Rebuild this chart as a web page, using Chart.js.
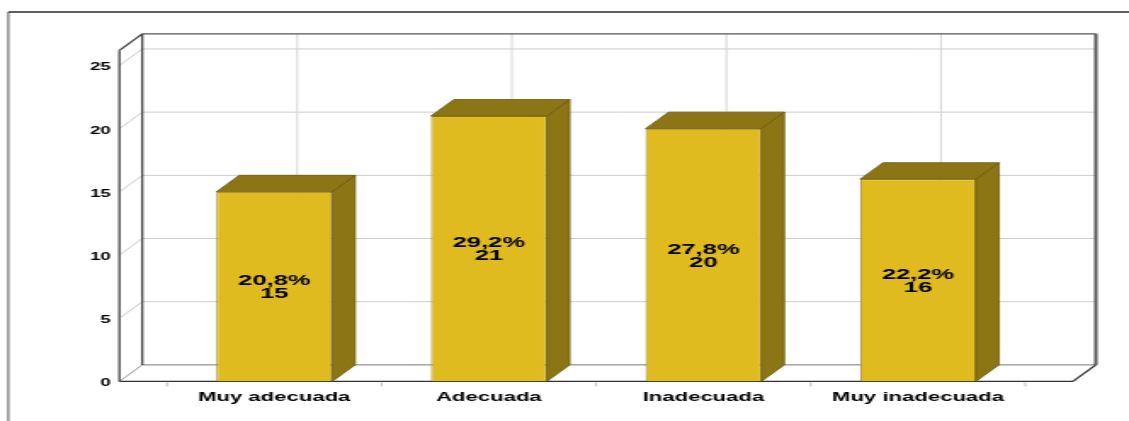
<!DOCTYPE html>
<html>
<head>
<meta charset="utf-8">
<script src="https://cdn.jsdelivr.net/npm/chart.js@4/dist/chart.umd.min.js"></script>
<style>
  html, body { margin: 0; padding: 0; background: #fff; }
  #grafico { display: block; }
</style>
</head>
<body>
<!-- canvas drawn narrow, then widened by css -->
<canvas id="grafico" width="664" height="421" style="width:1129px;height:421px"></canvas>
<script>
const categories = ['Muy adecuada', 'Adecuada', 'Inadecuada', 'Muy inadecuada'];
const counts = [15, 21, 20, 16];
const percents = ['20,8%', '29,2%', '27,8%', '22,2%'];
const yTicks = [0, 5, 10, 15, 20, 25];
const yMax = 26.2;

// profundidad de la caja 3D
const DX = 13.5, DY = -16.5, SIDE = 28;
const FONT = '"Liberation Sans", Arial, sans-serif';

function line(ctx, x1, y1, x2, y2) {
    ctx.beginPath();
    ctx.moveTo(x1, y1);
    ctx.lineTo(x2, y2);
    ctx.stroke();
}

function poly(ctx, pts) {
    ctx.beginPath();
    ctx.moveTo(pts[0][0], pts[0][1]);
    for (let i = 1; i < pts.length; i++) ctx.lineTo(pts[i][0], pts[i][1]);
    ctx.closePath();
    ctx.fill();
    ctx.stroke();
}

// paredes, piso y rejilla
const caja3d = {
    id: 'caja3d',
    beforeDatasetsDraw(chart) {
        const { ctx, chartArea: a, scales: { x, y } } = chart;
        const fl = a.left - SIDE, fr = a.right + SIDE;
        const y0 = y.getPixelForValue(0), yt = y.getPixelForValue(yMax);
        ctx.save();

        // marco exterior
        ctx.strokeStyle = '#2b2b2b';
        ctx.lineWidth = 1.5;
        line(ctx, 4.9, 12, chart.width, 12);
        ctx.lineWidth = 0.8;
        line(ctx, 4.9, 12, 4.9, chart.height);

        // lineas horizontales (pared izquierda + fondo)
        ctx.strokeStyle = '#cccccc';
        ctx.lineWidth = 1;
        yTicks.forEach(v => {
            if (v === 0) return;
            const py = y.getPixelForValue(v);
            line(ctx, fl, py, fl + DX, py + DY);
            line(ctx, fl + DX, py + DY, fr + DX, py + DY);
        });

        // lineas verticales en el fondo
        ctx.strokeStyle = '#d6d6d6';
        categories.forEach((c, i) => {
            const px = x.getPixelForValue(i) + DX;
            line(ctx, px, yt + DY, px, y0 + DY);
        });

        // marcas bajo el piso
        const w = x.getPixelForValue(1) - x.getPixelForValue(0);
        ctx.strokeStyle = '#bdbdbd';
        for (let i = 0; i <= categories.length; i++) {
            const px = x.getPixelForValue(i) - w / 2;
            line(ctx, px, y0 + 1, px, y0 + 5);
        }

        // piso
        ctx.strokeStyle = '#777';
        ctx.lineWidth = 1;
        line(ctx, fl + DX, y0 + DY, fr + DX, y0 + DY);
        ctx.strokeStyle = '#999';
        line(ctx, fl, y0, fl + DX, y0 + DY);
        ctx.strokeStyle = '#333';
        ctx.lineWidth = 1.3;
        line(ctx, fl, y0, fr, y0);
        line(ctx, fr, y0, fr + DX, y0 + DY);

        // pared izquierda y fondo
        ctx.strokeStyle = '#3a3a3a';
        ctx.lineWidth = 1.2;
        line(ctx, fl, yt, fl, y0);
        line(ctx, fl + DX, yt + DY, fl + DX, y0 + DY);
        line(ctx, fl, yt, fl + DX, yt + DY);
        ctx.strokeStyle = '#555';
        line(ctx, fl + DX, yt + DY, fr + DX, yt + DY);
        ctx.lineWidth = 2;
        line(ctx, fr + DX, yt + DY, fr + DX, y0 + DY);

        ctx.restore();
    },
    afterDatasetsDraw(chart) {
        const { ctx } = chart;
        const meta = chart.getDatasetMeta(0);
        ctx.save();
        ctx.fillStyle = '#8b7515';
        ctx.strokeStyle = '#6b5a0f';
        ctx.lineWidth = 0.8;
        meta.data.forEach((bar, i) => {
            const { x: cx, y: top, base, width } = bar.getProps(['x', 'y', 'base', 'width'], true);
            const l = cx - width / 2, r = cx + width / 2;
            // cara lateral y superior
            poly(ctx, [[r, top], [r + DX, top + DY], [r + DX, base + DY], [r, base]]);
            poly(ctx, [[l, top], [l + DX, top + DY], [r + DX, top + DY], [r, top]]);

            // etiqueta: porcentaje y frecuencia
            const my = (top + base) / 2;
            ctx.fillStyle = '#000';
            ctx.font = 'bold 15px ' + FONT;
            ctx.textAlign = 'center';
            ctx.textBaseline = 'middle';
            ctx.fillText(percents[i], cx, my - 5.5);
            ctx.fillText(String(counts[i]), cx, my + 7.5);
            ctx.fillStyle = '#8b7515';
        });
        ctx.restore();
    }
};

new Chart(document.getElementById('grafico'), {
    type: 'bar',
    data: {
        labels: categories,
        datasets: [{
            data: counts,
            backgroundColor: '#e0bb1f',
            borderColor: '#a38b1a',
            borderWidth: 1,
            barPercentage: 0.54,
            categoryPercentage: 1
        }]
    },
    options: {
        responsive: false,
        animation: false,
        devicePixelRatio: 1,
        layout: { padding: { top: 50.3, right: 61, left: 0, bottom: 0 } },
        plugins: { legend: { display: false }, tooltip: { enabled: false } },
        scales: {
            x: {
                grid: { display: false },
                border: { display: false },
                ticks: { color: '#000', padding: 0, maxRotation: 0, font: { family: FONT, size: 13, weight: 'bold' } },
                afterFit: s => { s.height = 37.2; }
            },
            y: {
                min: 0,
                max: yMax,
                grid: { display: false, drawTicks: false },
                border: { display: false },
                ticks: {
                    stepSize: 5,
                    includeBounds: false,
                    padding: 33,
                    labelOffset: 2,
                    color: '#000',
                    font: { family: FONT, size: 11, weight: 'bold' }
                },
                afterFit: s => { s.width = 98.2; }
            }
        }
    },
    plugins: [caja3d]
});
</script>
</body>
</html>
